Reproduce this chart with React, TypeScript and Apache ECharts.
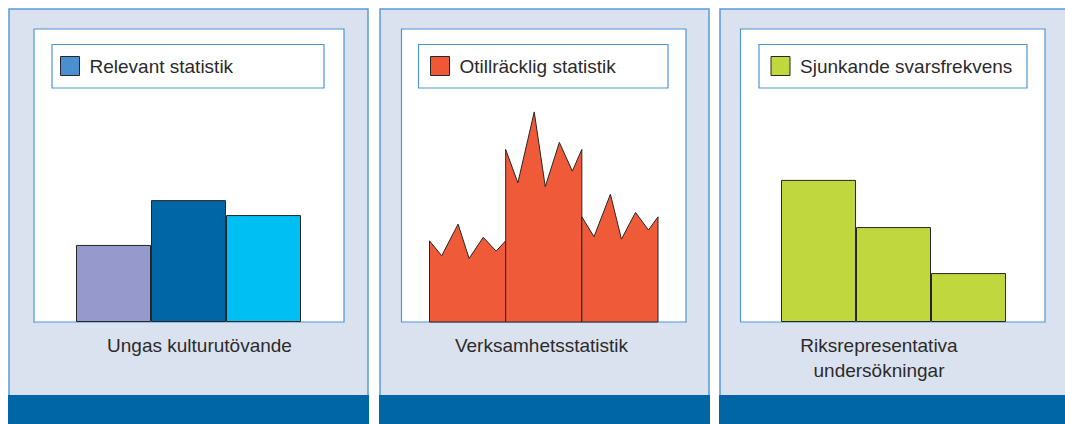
import React, { useEffect, useRef } from "react";
import * as echarts from "echarts";

// ---- data ----
const categories = ["A", "B", "C"];

const legend1 = "Relevant statistik";
const legend2 = "Otillräcklig statistik";
const legend3 = "Sjunkande svarsfrekvens";

const caption1 = "Ungas kulturutövande";
const caption2 = "Verksamhetsstatistik";
const caption3 = "Riksrepresentativa\nundersökningar";

// panel 1: plain bars (share of plot height)
const relevantValues = [26.3, 41.6, 36.5];
const relevantColors = ["#9699cb", "#0066a6", "#00bff2"];

// panel 2: jagged bars; each bar's top sampled at relative positions across the bar
const jagOffsets = [0, 0.16, 0.375, 0.52, 0.705, 0.875, 1];
const otillrackligBar1 = [27.7, 22.6, 33.4, 21.7, 28.9, 24.2, 27.7];
const otillrackligBar2 = [58.9, 47.5, 71.7, 46.2, 61.3, 51.5, 58.9];
const otillrackligBar3 = [35.9, 29.1, 43.6, 28.3, 37.4, 31.4, 35.9];

// panel 3: plain bars
const svarsValues = [48.5, 32.4, 16.7];

const FONT = "'Liberation Sans', Arial, Helvetica, sans-serif";
const TEXT_COLOR = "#2b2b2b";
const PANEL_BG = "#dbe2ef";
const PANEL_BORDER = "#5b9bd5";
const BOX_BORDER = "#4f95d2";
const BAND = "#0066a6";
const OUTLINE = "#262626";

export default function App() {
  const ref = useRef<HTMLDivElement>(null);

  useEffect(() => {
    document.body.style.margin = "0";
    const chart = echarts.init(ref.current!, null, { renderer: "svg" });

    const panels = [
      { x0: 9, x1: 368, box: [34, 344], leg: [52, 324] },
      { x0: 380, x1: 709, box: [401.5, 686], leg: [418.5, 668] },
      { x0: 720, x1: 1075, box: [740.5, 1045], leg: [759, 1027] },
    ];

    const graphics: any[] = [];
    panels.forEach((p) => {
      graphics.push({
        type: "rect",
        z: -10,
        shape: { x: p.x0, y: 9, width: p.x1 - p.x0, height: 400 },
        style: { fill: PANEL_BG, stroke: PANEL_BORDER, lineWidth: 1.5 },
      });
      graphics.push({
        type: "rect",
        z: -9,
        shape: { x: p.x0 - 1, y: 395, width: p.x1 - p.x0 + 2, height: 40 },
        style: { fill: BAND },
      });
      graphics.push({
        type: "rect",
        z: -8,
        shape: { x: p.box[0], y: 29, width: p.box[1] - p.box[0], height: 293 },
        style: { fill: "#ffffff", stroke: BOX_BORDER, lineWidth: 1.2 },
      });
      graphics.push({
        type: "rect",
        z: -7,
        shape: { x: p.leg[0], y: 44.5, width: p.leg[1] - p.leg[0], height: 43.5 },
        style: { fill: "#ffffff", stroke: BOX_BORDER, lineWidth: 1.2 },
      });
    });

    const captionStyle = {
      fill: TEXT_COLOR,
      font: `19px ${FONT}`,
      textAlign: "center",
      textVerticalAlign: "middle",
      lineHeight: 25,
    };
    graphics.push({ type: "text", z: 5, x: 199.5, y: 345, style: { ...captionStyle, text: caption1 } });
    graphics.push({ type: "text", z: 5, x: 541.5, y: 345, style: { ...captionStyle, text: caption2 } });
    graphics.push({ type: "text", z: 5, x: 879, y: 357.5, style: { ...captionStyle, text: caption3 } });

    const mkLegend = (name: string, color: string, left: number) => ({
      left,
      top: 56,
      padding: 0,
      itemWidth: 19,
      itemHeight: 19,
      selectedMode: false,
      icon: "rect",
      textStyle: {
        fontSize: 19,
        fontFamily: FONT,
        color: TEXT_COLOR,
        padding: [0, 0, 0, 5],
      },
      data: [
        {
          name,
          icon: "rect",
          itemStyle: { color, borderColor: OUTLINE, borderWidth: 1 },
        },
      ],
    });

    const gridDefs = [
      { left: 76, width: 225 },
      { left: 429.5, width: 228.5 },
      { left: 781, width: 225 },
    ];

    const jagData = [otillrackligBar1, otillrackligBar2, otillrackligBar3].map((vals, i) => [i, ...vals]);

    chart.setOption({
      animation: false,
      backgroundColor: "#ffffff",
      graphic: graphics,
      legend: [
        mkLegend(legend1, "#4a8fd0", 60),
        mkLegend(legend2, "#ef5737", 430),
        mkLegend(legend3, "#c0d73d", 770.5),
      ],
      grid: gridDefs.map((g) => ({ left: g.left, width: g.width, top: 29, height: 293 })),
      xAxis: [0, 1, 2].map((i) => ({
        type: "category",
        gridIndex: i,
        data: categories,
        show: false,
        boundaryGap: true,
      })),
      yAxis: [0, 1, 2].map((i) => ({
        type: "value",
        gridIndex: i,
        min: 0,
        max: 100,
        show: false,
        splitLine: { show: false },
      })),
      series: [
        {
          name: legend1,
          type: "bar",
          xAxisIndex: 0,
          yAxisIndex: 0,
          barWidth: "100%",
          itemStyle: { color: "#4a8fd0", borderColor: OUTLINE, borderWidth: 1 },
          data: relevantValues.map((v, i) => ({ value: v, itemStyle: { color: relevantColors[i] } })),
        },
        {
          name: legend2,
          type: "custom",
          xAxisIndex: 1,
          yAxisIndex: 1,
          itemStyle: { color: "#ef5a38" },
          encode: { x: 0, y: [1, 2, 3, 4, 5, 6, 7] },
          data: jagData,
          renderItem: (params: any, api: any) => {
            const idx = api.value(0);
            const bw = api.size([1, 0])[0];
            const base = api.coord([idx, 0]);
            const x0 = base[0] - bw / 2;
            const pts: number[][] = jagOffsets.map((o, k) => [
              x0 + o * bw,
              api.coord([idx, api.value(k + 1)])[1],
            ]);
            pts.push([x0 + bw, base[1]]);
            pts.push([x0, base[1]]);
            return {
              type: "polygon",
              shape: { points: pts },
              style: { fill: "#ef5a38", stroke: OUTLINE, lineWidth: 1 },
            };
          },
        },
        {
          name: legend3,
          type: "bar",
          xAxisIndex: 2,
          yAxisIndex: 2,
          barWidth: "100%",
          itemStyle: { color: "#c0d73d", borderColor: OUTLINE, borderWidth: 1 },
          data: svarsValues,
        },
      ],
    });

    return () => chart.dispose();
  }, []);

  return (
    <div
      ref={ref}
      style={{ position: "absolute", left: 0, top: 0, width: 1065, height: 424 }}
    />
  );
}
